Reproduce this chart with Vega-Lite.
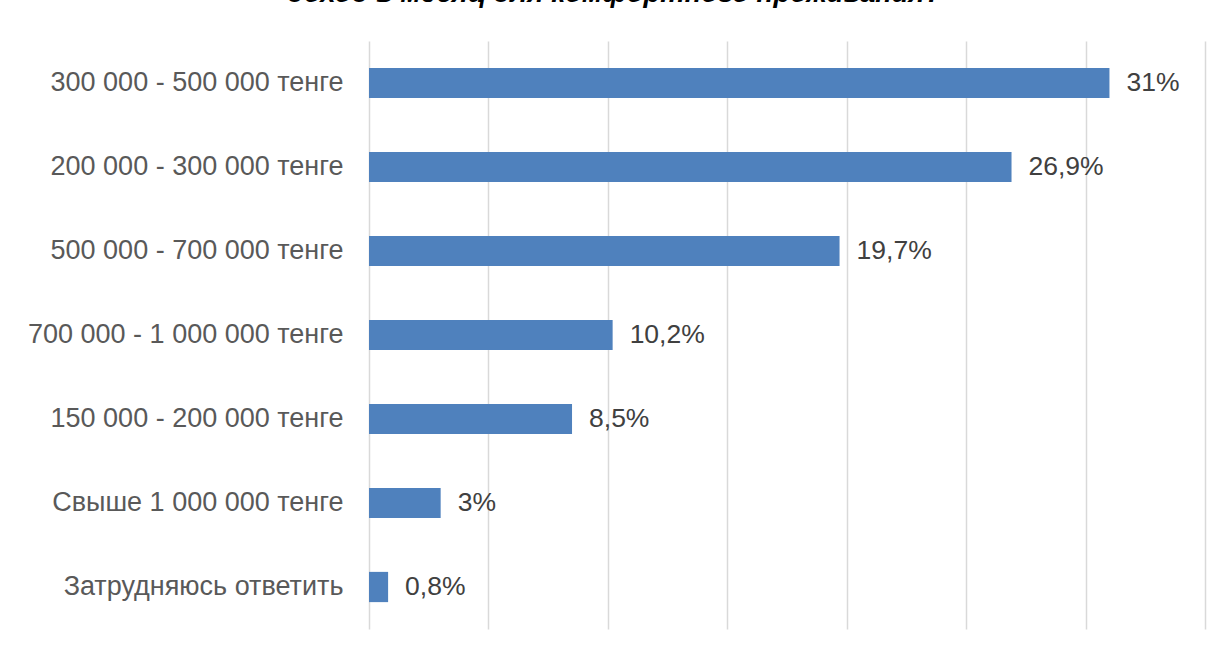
{
  "$schema": "https://vega.github.io/schema/vega-lite/v6.json",
  "width": 836,
  "height": 588,
  "autosize": {"type": "none"},
  "padding": {"left": 369, "top": 41, "right": 18, "bottom": 20},
  "background": "white",
  "title": {
    "text": "доход в месяц для комфортного проживания?»",
    "font": "Liberation Sans",
    "fontSize": 27.5,
    "fontWeight": "bold",
    "fontStyle": "italic",
    "color": "#000000",
    "anchor": "middle",
    "frame": "group",
    "baseline": "alphabetic",
    "offset": 0,
    "dx": -165,
    "dy": -12
  },
  "data": {
    "values": [
      {"cat": "300 000 - 500 000 тенге", "v": 31, "lbl": "31%"},
      {"cat": "200 000 - 300 000 тенге", "v": 26.9, "lbl": "26,9%"},
      {"cat": "500 000 - 700 000 тенге", "v": 19.7, "lbl": "19,7%"},
      {"cat": "700 000 - 1 000 000 тенге", "v": 10.2, "lbl": "10,2%"},
      {"cat": "150 000 - 200 000 тенге", "v": 8.5, "lbl": "8,5%"},
      {"cat": "Свыше 1 000 000 тенге", "v": 3, "lbl": "3%"},
      {"cat": "Затрудняюсь ответить", "v": 0.8, "lbl": "0,8%"}
    ]
  },
  "encoding": {
    "y": {
      "field": "cat",
      "type": "nominal",
      "sort": null,
      "scale": {"paddingInner": 0.64, "paddingOuter": 0.32},
      "axis": {
        "title": null,
        "domain": false,
        "ticks": false,
        "labelPadding": 26,
        "labelFont": "Liberation Sans",
        "labelFontSize": 27,
        "labelColor": "#595959",
        "labelLimit": 400
      }
    },
    "x": {
      "field": "v",
      "type": "quantitative",
      "scale": {"domain": [0, 35], "nice": false},
      "axis": {
        "title": null,
        "values": [0, 5, 10, 15, 20, 25, 30, 35],
        "labels": false,
        "ticks": false,
        "domain": false,
        "grid": true,
        "gridColor": "#d9d9d9",
        "gridWidth": 1.5
      }
    }
  },
  "layer": [
    {"mark": {"type": "bar", "color": "#4f81bd"}},
    {
      "mark": {
        "type": "text",
        "align": "left",
        "baseline": "middle",
        "dx": 17,
        "font": "Liberation Sans",
        "fontSize": 26.5,
        "color": "#404040"
      },
      "encoding": {"text": {"field": "lbl"}}
    }
  ],
  "config": {"view": {"stroke": null}}
}
